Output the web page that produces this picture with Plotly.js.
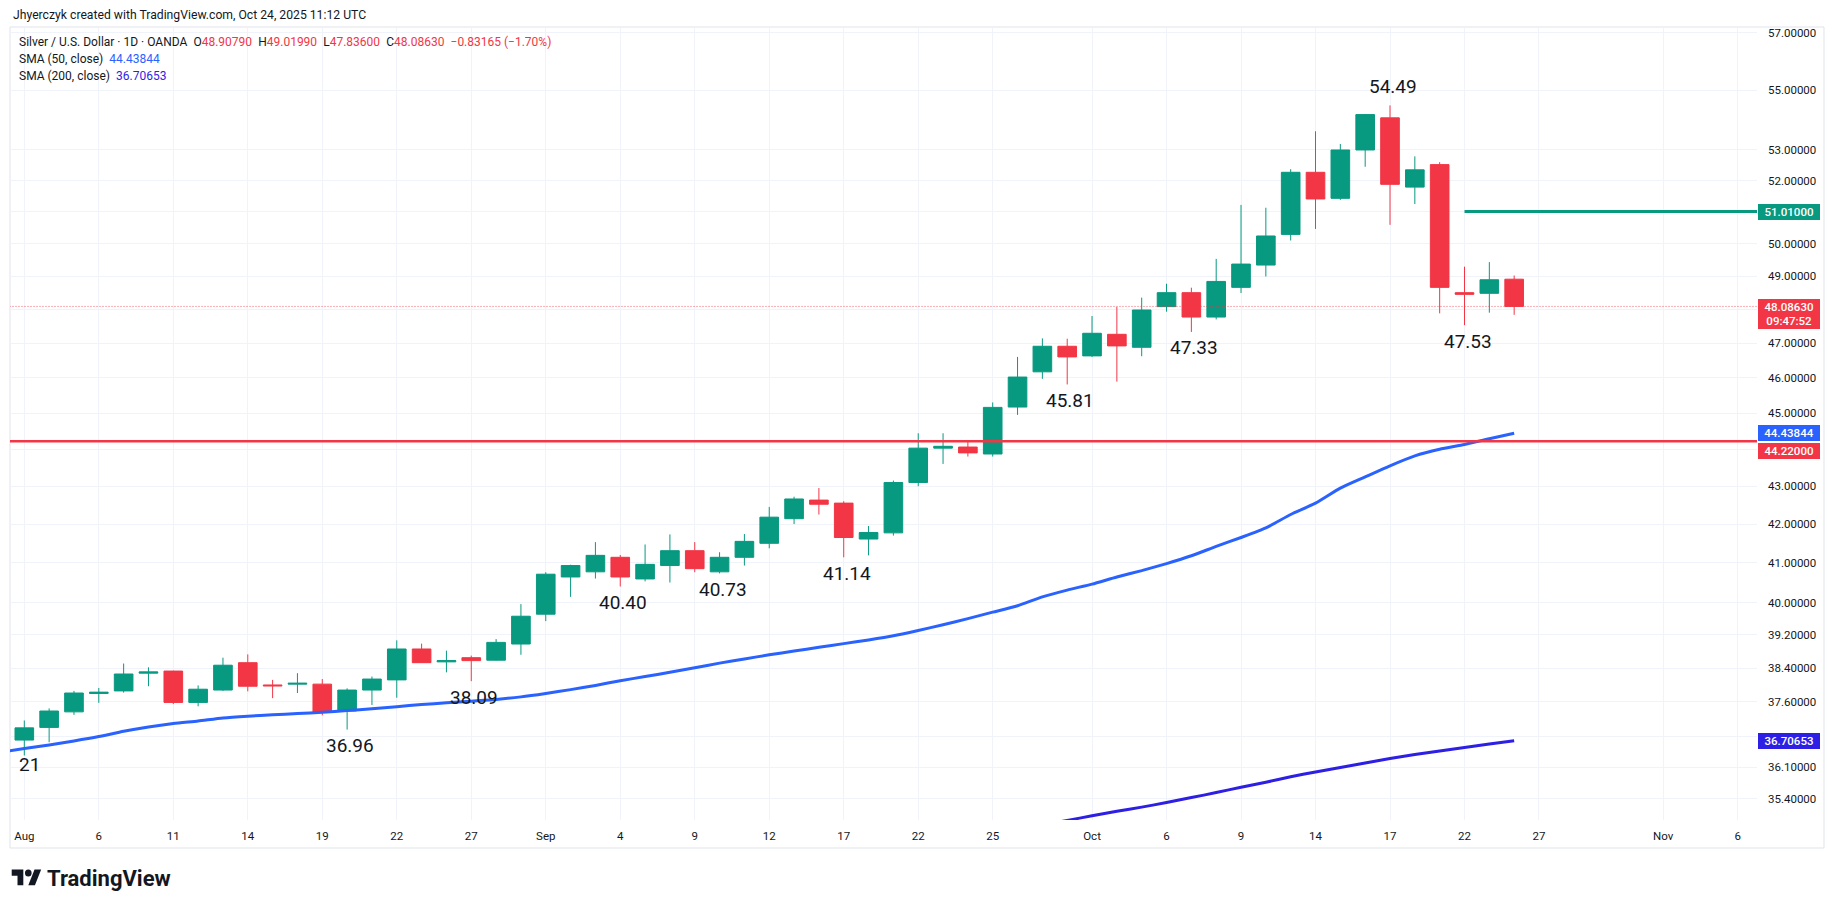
<!DOCTYPE html>
<html><head><meta charset="utf-8">
<script src="https://cdn.plot.ly/plotly-3.0.1.min.js"></script>
<style>html,body{margin:0;padding:0;background:#fff;}#chart{width:1835px;height:909px;}</style>
</head><body><div id="chart"></div>
<script>
// ---------- DATA ----------
const dates = [
 '2025-08-01','2025-08-04','2025-08-05','2025-08-06','2025-08-07','2025-08-08',
 '2025-08-11','2025-08-12','2025-08-13','2025-08-14','2025-08-15',
 '2025-08-18','2025-08-19','2025-08-20','2025-08-21','2025-08-22',
 '2025-08-25','2025-08-26','2025-08-27','2025-08-28','2025-08-29',
 '2025-09-01','2025-09-02','2025-09-03','2025-09-04','2025-09-05',
 '2025-09-08','2025-09-09','2025-09-10','2025-09-11','2025-09-12',
 '2025-09-15','2025-09-16','2025-09-17','2025-09-18','2025-09-19',
 '2025-09-22','2025-09-23','2025-09-24','2025-09-25','2025-09-26',
 '2025-09-29','2025-09-30','2025-10-01','2025-10-02','2025-10-03',
 '2025-10-06','2025-10-07','2025-10-08','2025-10-09','2025-10-10',
 '2025-10-13','2025-10-14','2025-10-15','2025-10-16','2025-10-17',
 '2025-10-20','2025-10-21','2025-10-22','2025-10-23','2025-10-24'
];
const opens = [
 36.72,37.01,37.37,37.80,37.86,38.28,
 38.33,37.59,37.88,38.53,38.00,
 38.02,38.02,37.39,37.88,38.12,
 38.86,38.55,38.65,38.59,38.98,
 39.71,40.64,40.77,41.14,40.59,
 40.93,41.31,40.77,41.14,41.50,
 42.14,42.63,42.55,41.61,41.77,
 43.10,44.03,44.06,43.87,45.17,
 46.17,46.91,46.63,47.26,46.88,
 48.08,48.50,47.77,48.66,49.34,
 50.29,52.27,51.43,53.00,54.07,
 51.79,52.52,48.50,48.48,48.9079
];
const highs = [
 37.17,37.45,37.86,37.93,38.51,38.42,
 38.34,37.99,38.65,38.73,38.12,
 38.28,38.14,37.92,38.20,39.07,
 38.99,38.82,38.70,39.10,39.96,
 40.76,40.95,41.53,41.20,41.47,
 41.73,41.53,41.27,41.74,42.45,
 42.72,42.95,42.60,41.95,43.15,
 44.44,44.44,44.22,45.30,46.60,
 47.14,47.13,47.80,48.07,48.35,
 48.77,48.65,49.53,51.22,51.13,
 52.37,53.62,53.20,54.20,54.49,
 52.79,52.60,49.29,49.43,49.0199
];
const lows = [
 36.37,36.67,37.30,37.58,37.82,37.97,
 37.55,37.50,37.86,37.85,37.69,
 37.81,37.29,36.96,37.53,37.70,
 38.53,38.30,38.09,38.58,38.72,
 39.54,40.14,40.60,40.40,40.53,
 40.50,40.76,40.73,40.93,41.37,
 42.00,42.25,41.14,41.19,41.70,
 43.00,43.60,43.80,43.80,44.95,
 45.97,45.81,46.60,45.89,46.62,
 47.93,47.33,47.70,48.49,48.99,
 50.10,50.46,51.38,52.45,50.59,
 51.25,47.88,47.53,47.90,47.836
];
const closes = [
 37.00,37.39,37.81,37.83,38.26,38.31,
 37.59,37.90,38.47,37.97,37.98,
 38.04,37.37,37.88,38.14,38.86,
 38.53,38.58,38.58,39.02,39.66,
 40.71,40.93,41.19,40.64,40.96,
 41.31,40.85,41.14,41.55,42.18,
 42.66,42.52,41.65,41.78,43.10,
 44.03,44.08,43.90,45.16,46.02,
 46.91,46.60,47.29,46.92,47.98,
 48.50,47.77,48.84,49.37,50.24,
 52.27,51.41,53.00,54.18,51.88,
 52.35,48.66,48.45,48.89,48.0863
];

// SMA (50, close), from Jul 31
const sma50Dates = ['2025-07-31'].concat(dates);
const sma50 = [
 36.44,
 36.53,36.61,36.70,36.80,36.92,37.02,
 37.10,37.16,37.23,37.27,37.30,
 37.33,37.36,37.40,37.44,37.49,
 37.54,37.58,37.62,37.66,37.72,
 37.80,37.89,37.99,38.10,38.20,
 38.30,38.41,38.52,38.62,38.72,
 38.81,38.90,38.99,39.08,39.18,
 39.31,39.45,39.60,39.76,39.92,
 40.14,40.31,40.46,40.64,40.80,
 40.98,41.18,41.42,41.65,41.90,
 42.25,42.55,42.95,43.25,43.55,
 43.82,44.00,44.13,44.29,44.43844
];
// SMA (200, close) (visible part only)
const sma200Dates = [
 '2025-09-26','2025-09-29','2025-09-30','2025-10-01','2025-10-02','2025-10-03',
 '2025-10-06','2025-10-07','2025-10-08','2025-10-09','2025-10-10',
 '2025-10-13','2025-10-14','2025-10-15','2025-10-16','2025-10-17',
 '2025-10-20','2025-10-21','2025-10-22','2025-10-23','2025-10-24'
];
const sma200 = [
 34.73,34.83,34.93,35.03,35.13,35.22,
 35.32,35.43,35.54,35.66,35.77,
 35.89,36.00,36.10,36.20,36.30,
 36.39,36.47,36.55,36.63,36.70653
];

const xTickDates = ['2025-08-01','2025-08-06','2025-08-11','2025-08-14','2025-08-19','2025-08-22','2025-08-27',
 '2025-09-01','2025-09-04','2025-09-09','2025-09-12','2025-09-17','2025-09-22','2025-09-25',
 '2025-10-01','2025-10-06','2025-10-09','2025-10-14','2025-10-17','2025-10-22','2025-10-27',
 '2025-11-03','2025-11-06'];
const xTickLabels = ['Aug','6','11','14','19','22','27','Sep','4','9','12','17','22','25','Oct','6','9','14','17','22','27','Nov','6'];

const yTickValues = [35.4,36.1,36.8,37.6,38.4,39.2,40,41,42,43,44,45,46,47,48,49,50,51,52,53,55,57];
const yTickLabels = ['35.40000','36.10000','','37.60000','38.40000','39.20000','40.00000','41.00000','42.00000','43.00000','',
 '45.00000','46.00000','47.00000','','49.00000','50.00000','','52.00000','53.00000','55.00000','57.00000'];

const supportLevel = 44.22;
const resistanceLevel = 51.01;
const resistanceStart = '2025-10-22';
const lastPrice = 48.0863;
const sma50Last = 44.43844;
const sma200Last = 36.70653;
const countdown = '09:47:52';

const lowLabelDates = ['2025-08-20','2025-08-27','2025-09-04','2025-09-10','2025-09-17','2025-09-30','2025-10-07','2025-10-22'];
const lowLabelValues = [36.96,38.09,40.40,40.73,41.14,45.81,47.33,47.53];
const highLabelDates = ['2025-10-17'];
const highLabelValues = [54.49];

const legendOHLC = {o:'48.90790', h:'49.01990', l:'47.83600', c:'48.08630', chg:'\u22120.83165 (\u22121.70%)'};

// ---------- LAYOUT ----------
const W = 1835, H = 909, L = 10, R = 1757, T = 27, B = 820;
const xp = px => (px - L) / (R - L);
const yp = py => (B - py) / (B - T);
const lg = Math.log10;
const GREEN = '#089981', RED = '#f23645', BLUE = '#2962ff', INDIGO = '#2d1fe4', INK = '#131722';
const FONT = 'Roboto, "Liberation Sans", sans-serif';

const traces = [
 {type:'scatter', mode:'lines', x:['2025-07-25','2025-11-14'], y:[lastPrice,lastPrice],
  line:{color:RED, width:1, dash:'1px,2px'}, opacity:0.8, hoverinfo:'skip'},
 {type:'candlestick', x:dates, open:opens, high:highs, low:lows, close:closes,
  increasing:{line:{color:GREEN, width:1}, fillcolor:GREEN},
  decreasing:{line:{color:RED, width:1}, fillcolor:RED},
  whiskerwidth:0, hoverinfo:'skip'},
 {type:'scatter', mode:'lines', x:sma50Dates, y:sma50, line:{color:BLUE, width:3, shape:'spline', smoothing:0.6}, hoverinfo:'skip'},
 {type:'scatter', mode:'lines', x:sma200Dates, y:sma200, line:{color:INDIGO, width:3, shape:'spline', smoothing:0.6}, hoverinfo:'skip'},
 {type:'scatter', mode:'lines', x:['2025-07-25','2025-11-14'], y:[supportLevel,supportLevel], line:{color:RED, width:2.6}, hoverinfo:'skip'},
 {type:'scatter', mode:'lines', x:[resistanceStart,'2025-11-14'], y:[resistanceLevel,resistanceLevel], line:{color:GREEN, width:2.8}, hoverinfo:'skip'}
];

const ann = [];
// header
ann.push({xref:'paper', yref:'paper', x:xp(11), y:yp(15), xanchor:'left', yanchor:'middle', showarrow:false,
  text:'Jhyerczyk created with TradingView.com, Oct 24, 2025 11:12 UTC', font:{family:FONT, size:12.2, color:INK}});
// legend
const r = s => '<span style="color:'+RED+'">'+s+'</span>';
const G = '\u2002';
ann.push({xref:'paper', yref:'paper', x:xp(17), y:yp(42), xanchor:'left', yanchor:'middle', showarrow:false,
  text:'Silver / U.S. Dollar \u00b7 1D \u00b7 OANDA'+G+'O'+r(legendOHLC.o)+G+'H'+r(legendOHLC.h)+G+'L'+r(legendOHLC.l)+G+'C'+r(legendOHLC.c)+G+r(legendOHLC.chg),
  font:{family:FONT, size:12, color:INK}});
ann.push({xref:'paper', yref:'paper', x:xp(17), y:yp(59), xanchor:'left', yanchor:'middle', showarrow:false,
  text:'SMA (50, close)\u2002<span style="color:'+BLUE+'">'+sma50Last.toFixed(5)+'</span>', font:{family:FONT, size:12, color:INK}});
ann.push({xref:'paper', yref:'paper', x:xp(17), y:yp(76), xanchor:'left', yanchor:'middle', showarrow:false,
  text:'SMA (200, close)\u2002<span style="color:'+INDIGO+'">'+sma200Last.toFixed(5)+'</span>', font:{family:FONT, size:12, color:INK}});
// low / high labels
lowLabelDates.forEach((d,i) => ann.push({xref:'x', yref:'y', x:d, y:lg(lowLabelValues[i]), yshift:-16, xshift:3,
  showarrow:false, text:lowLabelValues[i].toFixed(2), font:{family:FONT, size:19, color:INK}}));
highLabelDates.forEach((d,i) => ann.push({xref:'x', yref:'y', x:d, y:lg(highLabelValues[i]), yshift:19, xshift:3,
  showarrow:false, text:highLabelValues[i].toFixed(2), font:{family:FONT, size:19, color:INK}}));
// cut-off label at the left edge
ann.push({xref:'paper', yref:'paper', x:xp(16.5), y:yp(778), showarrow:false, text:'21', font:{family:FONT, size:19, color:INK}});
// price scale labels
function tag(v, txt, color, shift, h){
  ann.push({xref:'paper', yref:'y', x:xp(1758), y:lg(v), yshift:shift||0, xanchor:'left', yanchor:'middle',
    showarrow:false, text:txt, bgcolor:color, borderpad:1, borderwidth:0, width:60, height:h||14, align:'center',
    font:{family:FONT, size:11.5, color:'#ffffff', weight:500}});
}
tag(resistanceLevel, resistanceLevel.toFixed(5), GREEN, 0);
tag(lastPrice, lastPrice.toFixed(5)+'<br>'+countdown, RED, -7.5, 28);
tag(sma50Last, sma50Last.toFixed(5), BLUE, 0);
tag(supportLevel, supportLevel.toFixed(5), RED, -10);
tag(sma200Last, sma200Last.toFixed(5), INDIGO, 0);
// footer wordmark
ann.push({xref:'paper', yref:'paper', x:xp(45), y:yp(878), xanchor:'left', yanchor:'middle', showarrow:false,
  text:'<b>TradingView</b>', font:{family:FONT, size:22, color:INK}});

// shapes: frame + logo
const shapes = [];
shapes.push({type:'rect', xref:'paper', yref:'paper', x0:xp(10), x1:xp(1824), y0:yp(848), y1:yp(27),
  line:{color:'#e0e3eb', width:1}, fillcolor:'rgba(0,0,0,0)', layer:'below'});
const lx = u => xp(11.7 + 0.83*u), ly = v => yp(869.5 + 0.88*(v-4));
const poly = pts => 'M' + pts.map(p => lx(p[0]) + ',' + ly(p[1])).join('L') + 'Z';
shapes.push({type:'path', xref:'paper', yref:'paper', path:poly([[14,22],[7,22],[7,11],[0,11],[0,4],[14,4]]), fillcolor:INK, line:{width:0}});
shapes.push({type:'path', xref:'paper', yref:'paper', path:poly([[28,22],[20,22],[27.5,4],[35.5,4]]), fillcolor:INK, line:{width:0}});
shapes.push({type:'circle', xref:'paper', yref:'paper', x0:lx(16), x1:lx(24), y0:ly(12), y1:ly(4), fillcolor:INK, line:{width:0}});

const layout = {
  width:W, height:H, margin:{l:L, r:W-R, t:T, b:H-B, pad:0},
  paper_bgcolor:'#ffffff', plot_bgcolor:'#ffffff', showlegend:false, hovermode:false,
  font:{family:FONT, color:INK, size:11.5},
  boxgap:0.25, boxgroupgap:0,
  xaxis:{type:'date', range:['2025-07-31 10:10','2025-11-06 18:43'], rangebreaks:[{bounds:['sat','mon']}],
    tickmode:'array', tickvals:xTickDates, ticktext:xTickLabels, showgrid:true, gridcolor:'#f0f3fa', gridwidth:1,
    zeroline:false, showline:false, ticks:'', rangeslider:{visible:false}, fixedrange:true,
    tickfont:{family:FONT, size:11.5, color:INK}, ticklabelstandoff:7},
  yaxis:{type:'log', side:'right', range:[1.543315, 1.757492], tickmode:'array', tickvals:yTickValues, ticktext:yTickLabels,
    showgrid:true, gridcolor:'#f0f3fa', gridwidth:1, zeroline:false, showline:false, ticks:'', fixedrange:true,
    tickfont:{family:FONT, size:11.5, color:INK}, ticklabelstandoff:10},
  annotations:ann, shapes:shapes
};
Plotly.newPlot('chart', traces, layout, {staticPlot:true, displayModeBar:false});
</script></body></html>
